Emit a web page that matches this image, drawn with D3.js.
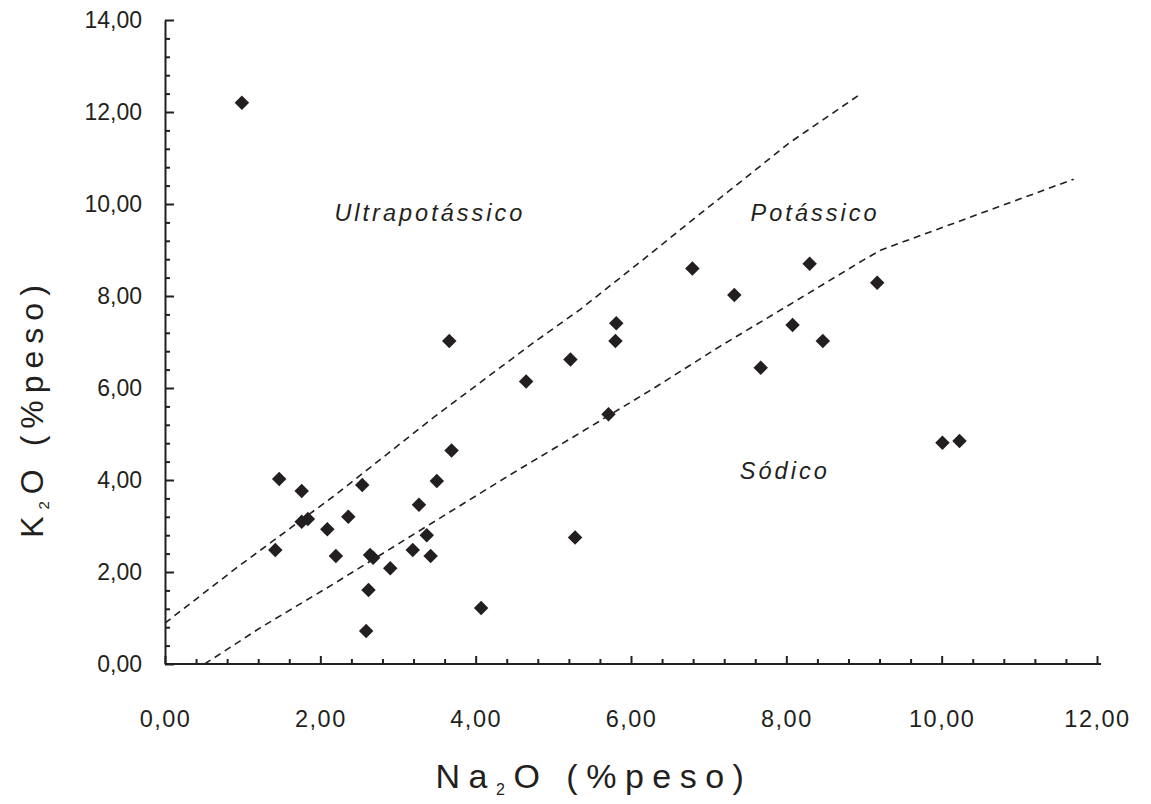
<!DOCTYPE html>
<html>
<head>
<meta charset="utf-8">
<script src="https://cdn.jsdelivr.net/npm/d3@7"></script>
<style>
  body { margin: 0; background: #fff; }
  text { font-family: "Liberation Sans", Arial, sans-serif; fill: #231f20; }
</style>
</head>
<body>
<div id="chart"></div>
<script>
// samples (Na2O, K2O in % peso)
const na2o = [0.99, 1.42, 1.47, 1.76, 1.76, 1.84, 2.09, 2.20, 2.36, 2.54, 2.59, 2.62, 2.64, 2.68, 2.90,
  3.19, 3.27, 3.37, 3.42, 3.50, 3.66, 3.69, 4.07, 4.65, 5.22, 5.28, 5.71, 5.80, 5.81, 6.79,
  7.33, 7.67, 8.08, 8.30, 8.47, 9.17, 10.01, 10.23]
const k2o = [12.20, 2.48, 4.02, 3.76, 3.09, 3.15, 2.93, 2.35, 3.20, 3.89, 0.72, 1.61, 2.37, 2.31, 2.08,
  2.48, 3.46, 2.80, 2.35, 3.98, 7.02, 4.64, 1.22, 6.14, 6.62, 2.75, 5.43, 7.02, 7.41, 8.60,
  8.02, 6.44, 7.37, 8.70, 7.02, 8.29, 4.81, 4.85]

// dividing lines
const upperX = [0, 0.92, 2.19, 3.45, 4.74, 5.34, 6.20, 6.84, 7.23, 8.04, 8.92]
const upperY = [0.89, 2.09, 3.67, 5.35, 6.98, 7.70, 8.85, 9.72, 10.24, 11.33, 12.35]
const lowerX = [0.51, 1.22, 2.15, 2.60, 3.50, 4.44, 5.34, 6.26, 7.14, 8.07, 8.99, 9.22, 11.70]
const lowerY = [0.00, 0.78, 1.72, 2.19, 3.13, 4.11, 5.02, 5.96, 6.90, 7.84, 8.78, 9.00, 10.54]

const regionNames = ["Ultrapotássico", "Potássico", "Sódico"]
const regionX = [3.41, 8.37, 7.98]
const regionY = [9.62, 9.62, 4.02]

const width = 1151, height = 804
const ink = "#231f20"

const svg = d3.select("#chart").append("svg")
  .attr("width", width).attr("height", height)

const x = d3.scaleLinear().domain([0, 12]).range([165, 1097])
const y = d3.scaleLinear().domain([0, 14]).range([664, 20])

const fmt = d => d.toFixed(2).replace(".", ",")
const majors = d3.range(0, 14.01, 2)
const minorX = d3.range(0, 12.01, 0.4).filter(v => Math.abs(v / 2 - Math.round(v / 2)) > 1e-6)
const minorY = d3.range(0, 14.01, 0.4).filter(v => Math.abs(v / 2 - Math.round(v / 2)) > 1e-6)

// x axis
const gx = svg.append("g").attr("transform", `translate(0,${y(0)})`)
gx.call(d3.axisBottom(x).tickValues(majors.filter(v => v <= 12)).tickFormat(fmt)
  .tickSizeInner(-8).tickSizeOuter(0).tickPadding(46))
gx.append("g").call(d3.axisBottom(x).tickValues(minorX).tickFormat("").tickSizeInner(-5).tickSizeOuter(0))
  .select(".domain").remove()

// y axis
const gy = svg.append("g").attr("transform", `translate(${x(0)},0)`)
gy.call(d3.axisLeft(y).tickValues(majors).tickFormat(fmt)
  .tickSizeInner(-9).tickSizeOuter(0).tickPadding(23))
gy.append("g").call(d3.axisLeft(y).tickValues(minorY).tickFormat("").tickSizeInner(-5).tickSizeOuter(0))
  .select(".domain").remove()

svg.selectAll(".domain").attr("stroke", ink).attr("stroke-width", 2)
svg.selectAll(".tick line").attr("stroke", ink).attr("stroke-width", 2)
svg.selectAll(".tick text").attr("font-size", 23).attr("font-family", "Liberation Sans, Arial, sans-serif").attr("fill", ink)
gx.selectAll(".tick text").attr("font-size", 23.5).attr("letter-spacing", 1.5)
gx.select(".domain").attr("d", `M${x(0)},0H${x(12) + 4}`)

// dashed boundaries
const line = d3.line().x(d => x(d[0])).y(d => y(d[1]))
const boundaries = [d3.zip(upperX, upperY), d3.zip(lowerX, lowerY)]
svg.selectAll(".boundary").data(boundaries).enter().append("path")
  .attr("class", "boundary")
  .attr("d", line)
  .attr("fill", "none")
  .attr("stroke", ink)
  .attr("stroke-width", 1.6)
  .attr("stroke-dasharray", "7,5")

// points
const diamond = d3.symbol().type(d3.symbolSquare).size(105)
svg.selectAll(".pt").data(d3.zip(na2o, k2o)).enter().append("path")
  .attr("class", "pt")
  .attr("d", diamond)
  .attr("transform", d => `translate(${x(d[0])},${y(d[1])}) rotate(45)`)
  .attr("fill", ink)

// region names
svg.selectAll(".region").data(regionNames).enter().append("text")
  .attr("class", "region")
  .attr("x", (d, i) => x(regionX[i]))
  .attr("y", (d, i) => y(regionY[i]))
  .attr("text-anchor", "middle")
  .attr("font-size", 23.5)
  .attr("font-style", "italic")
  .attr("letter-spacing", 3)
  .text(d => d)

// axis titles
const xt = svg.append("text")
  .attr("x", 594).attr("y", 788)
  .attr("text-anchor", "middle")
  .attr("font-size", 34)
  .attr("letter-spacing", 8.5)
xt.append("tspan").text("Na")
xt.append("tspan").attr("font-size", 16).attr("dy", 7).text("2")
xt.append("tspan").attr("dy", -7).text("O (%peso)")

const yt = svg.append("text")
  .attr("transform", "translate(43,408) rotate(-90)")
  .attr("text-anchor", "middle")
  .attr("font-size", 32)
  .attr("letter-spacing", 7)
yt.append("tspan").text("K")
yt.append("tspan").attr("font-size", 15).attr("dy", 6).text("2")
yt.append("tspan").attr("dy", -6).text("O (%peso)")
</script>
</body>
</html>
